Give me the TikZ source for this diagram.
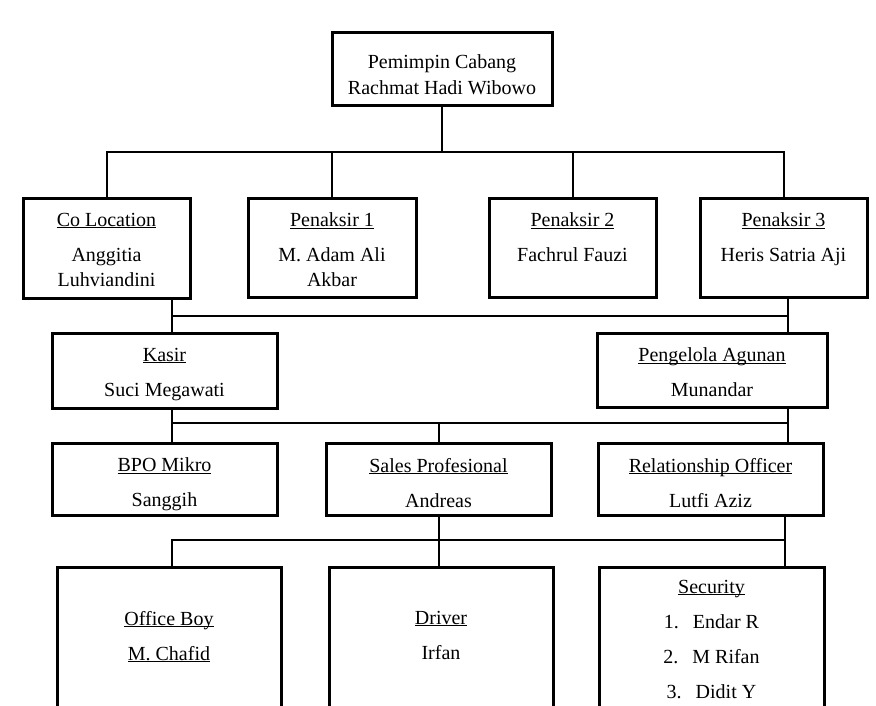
\documentclass[tikz,border=0pt]{standalone}
\usepackage{fontspec}
\setmainfont{Liberation Serif}
\newcommand{\card}[4]{\begin{minipage}[c][#2pt][t]{#1pt}\centering\vspace*{#3pt}#4\end{minipage}}
\newcommand{\uln}[1]{\underline{\raisebox{0pt}[\height][0pt]{#1}}}
\newcommand{\nr}[1]{\makebox[29pt][l]{#1}}
\tikzset{
	unit/.style={rectangle, draw=black, line width=3pt, inner sep=0pt, fill=white},
	link/.style={draw=black, line width=2pt},
}
\begin{document}
\begin{tikzpicture}[x=1pt, y=-1pt, font=\fontsize{20}{25}\selectfont]
			\useasboundingbox (0,0) rectangle (876,705);
			\clip (0,0) rectangle (876,705);
			\node[unit] (lead) at (442,68.5) {\card{220}{73}{23}{Pemimpin Cabang\\[1pt]Rachmat Hadi Wibowo}};
			\node[unit] (coloc) at (106.5,248) {\card{167}{100}{15}{\uln{Co Location}\\[10pt]Anggitia\\Luhviandini}};
			\node[unit] (pen1) at (332,247.5) {\card{168}{99}{15}{\uln{Penaksir 1}\\[10pt]M. Adam Ali\\Akbar}};
			\node[unit] (pen2) at (572.5,247.5) {\card{167}{99}{15}{\uln{Penaksir 2}\\[10pt]Fachrul Fauzi}};
			\node[unit] (pen3) at (783.5,247.5) {\card{167}{99}{15}{\uln{Penaksir 3}\\[10pt]Heris Satria Aji}};
			\node[unit] (kasir) at (164.5,370.5) {\card{225}{75}{15}{\uln{Kasir}\\[10pt]Suci Megawati}};
			\node[unit] (agunan) at (712,370) {\card{230}{74}{15}{\uln{Pengelola Agunan}\\[10pt]Munandar}};
			\node[unit] (bpo) at (164.5,479) {\card{225}{72}{15}{\uln{BPO Mikro}\\[10pt]Sanggih}};
			\node[unit] (sales) at (438.5,479) {\card{225}{72}{15}{\uln{Sales Profesional}\\[10pt]Andreas}};
			\node[unit] (ro) at (710.5,479) {\card{225}{72}{15}{\uln{Relationship Officer}\\[10pt]Lutfi Aziz}};
			\node[unit] (oboy) at (169,648.5) {\card{224}{163}{44}{\uln{Office Boy}\\[10pt]\uln{M. Chafid}}};
			\node[unit] (driver) at (441,648.5) {\card{224}{163}{44}{\uln{Driver}\\[10pt]Irfan}};
			\node[unit] (secur) at (711.5,648.5) {\card{225}{163}{13}{\uln{Security}\\[10pt]\nr{1.}Endar R\\[10pt]\nr{2.}M Rifan\\[10pt]\nr{3.}Didit Y}};
			\coordinate (b1) at (0,152);
			\coordinate (b2l) at (172,316);
			\coordinate (b2r) at (788,316);
			\coordinate (b3l) at (172,423);
			\coordinate (b3r) at (788,423);
			\coordinate (b4l) at (172,540);
			\coordinate (b4r) at (785,540);
			\draw[link] (lead.south) -- (lead.south |- b1);
			\draw[link] (coloc.north) |- (pen3.north |- b1) -- (pen3.north);
			\draw[link] (pen1.north) -- (pen1.north |- b1);
			\draw[link] (pen2.north) -- (pen2.north |- b1);
			\draw[link] (coloc.south -| b2l) -- (kasir.north -| b2l);
			\draw[link] (pen3.south -| b2r) -- (agunan.north -| b2r);
			\draw[link] (b2l) -- (b2r);
			\draw[link] (kasir.south -| b3l) -- (bpo.north -| b3l);
			\draw[link] (agunan.south -| b3r) -- (ro.north -| b3r);
			\draw[link] (b3l) -- (b3r);
			\draw[link] (sales.north |- b3l) -- (sales.north);
			\draw[link] (sales.south) -- (sales.south |- driver.north);
			\draw[link] (ro.south -| b4r) -- (secur.north -| b4r);
			\draw[link] (oboy.north -| b4l) |- (b4r);
		\end{tikzpicture}
\end{document}
